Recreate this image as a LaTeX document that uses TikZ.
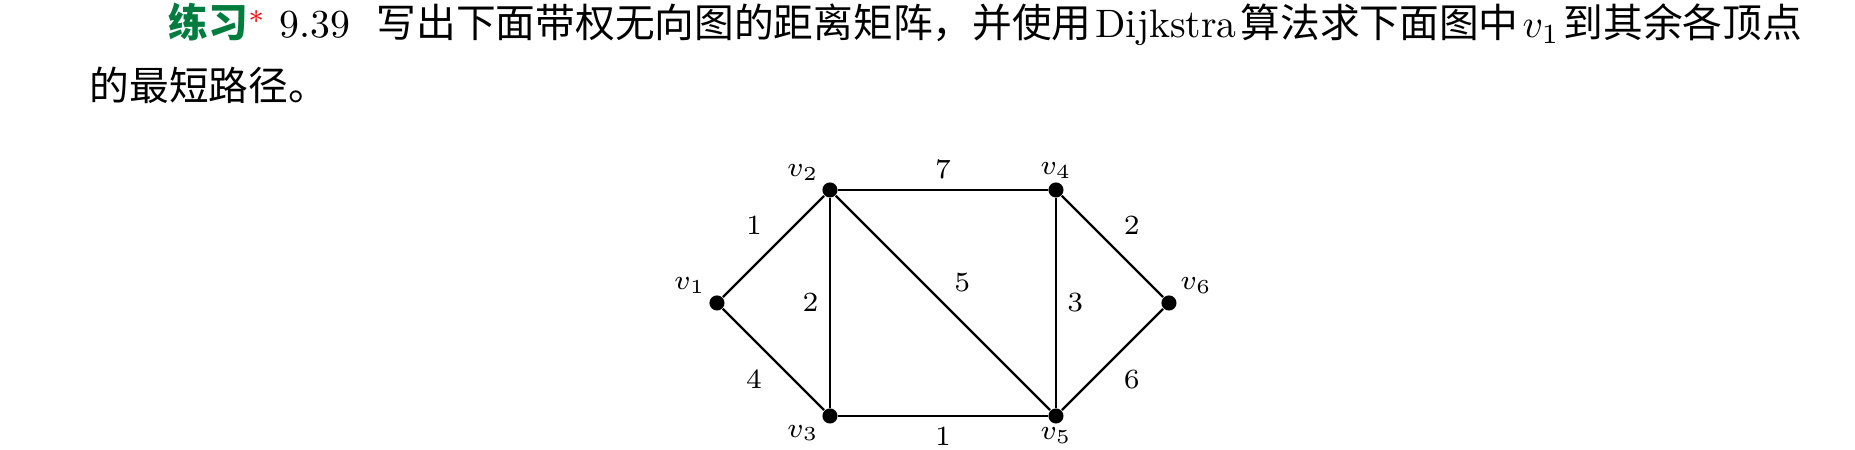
\documentclass[tikz,border=0pt]{standalone}
\usepackage{fontspec}
\newfontfamily\cjk{Noto Sans CJK SC}
\definecolor{exerciseGreen}{RGB}{0,125,62}
\newcommand{\vertex}[4]{%%
  \node[vertexStyle,label={[nameStyle]#3:$#4$}] (#1) at (#2) {};
}
\newcommand{\weightedEdge}[4]{%%
  \draw[edgeStyle] (#1) -- node[weightStyle,#3] {$#4$} (#2);
}
\newcommand{\cjkgap}{\hspace{1pt}}

\begin{document}
\begin{tikzpicture}[%%
  vertexStyle/.style={circle,inner sep=0pt,minimum size=3.8pt,fill=black},%%
  edgeStyle/.style={-,semithick},%%
  weightStyle/.style={font=\scriptsize,inner sep=2.6pt},%%
  nameStyle/.style={font=\scriptsize,inner xsep=1.2pt,inner ysep=0.6pt},%%
  textStyle/.style={anchor=base west,inner sep=0pt}
]
%%
%% The page.
\useasboundingbox (-6.345,-1.301) rectangle (10.071,2.681);
%%
%% The exercise text.
\node[textStyle] (lineOne) at (-4.858,2.345)
  {{\cjk\bfseries\color{exerciseGreen}练习}\textcolor{red}{$^{*}$}\ 9.39\ \ {\cjk 写出下面带权无向图的距离矩阵，并使用}\cjkgap Dijkstra\cjkgap{\cjk 算法求下面图中}\cjkgap$v_1$\cjkgap{\cjk 到其余各顶点}};
\node[textStyle] (lineTwo) at (-5.558,1.796) {{\cjk 的最短路径。}};
%%
%% The vertices.
\vertex{v1}{0,0}{above left}{v_1}
\vertex{v2}{1,1}{above left}{v_2}
\vertex{v3}{1,-1}{below left}{v_3}
\vertex{v4}{3,1}{above}{v_4}
\vertex{v5}{3,-1}{below}{v_5}
\vertex{v6}{4,0}{above right}{v_6}
%%
%% The weighted edges.
\weightedEdge{v1}{v2}{above left}{1}
\weightedEdge{v1}{v3}{below left}{4}
\weightedEdge{v2}{v3}{left}{2}
\weightedEdge{v2}{v4}{above}{7}
\weightedEdge{v2}{v5}{above right}{5}
\weightedEdge{v3}{v5}{below}{1}
\weightedEdge{v4}{v5}{right}{3}
\weightedEdge{v4}{v6}{above right}{2}
\weightedEdge{v5}{v6}{below right}{6}
\end{tikzpicture}
\end{document}
